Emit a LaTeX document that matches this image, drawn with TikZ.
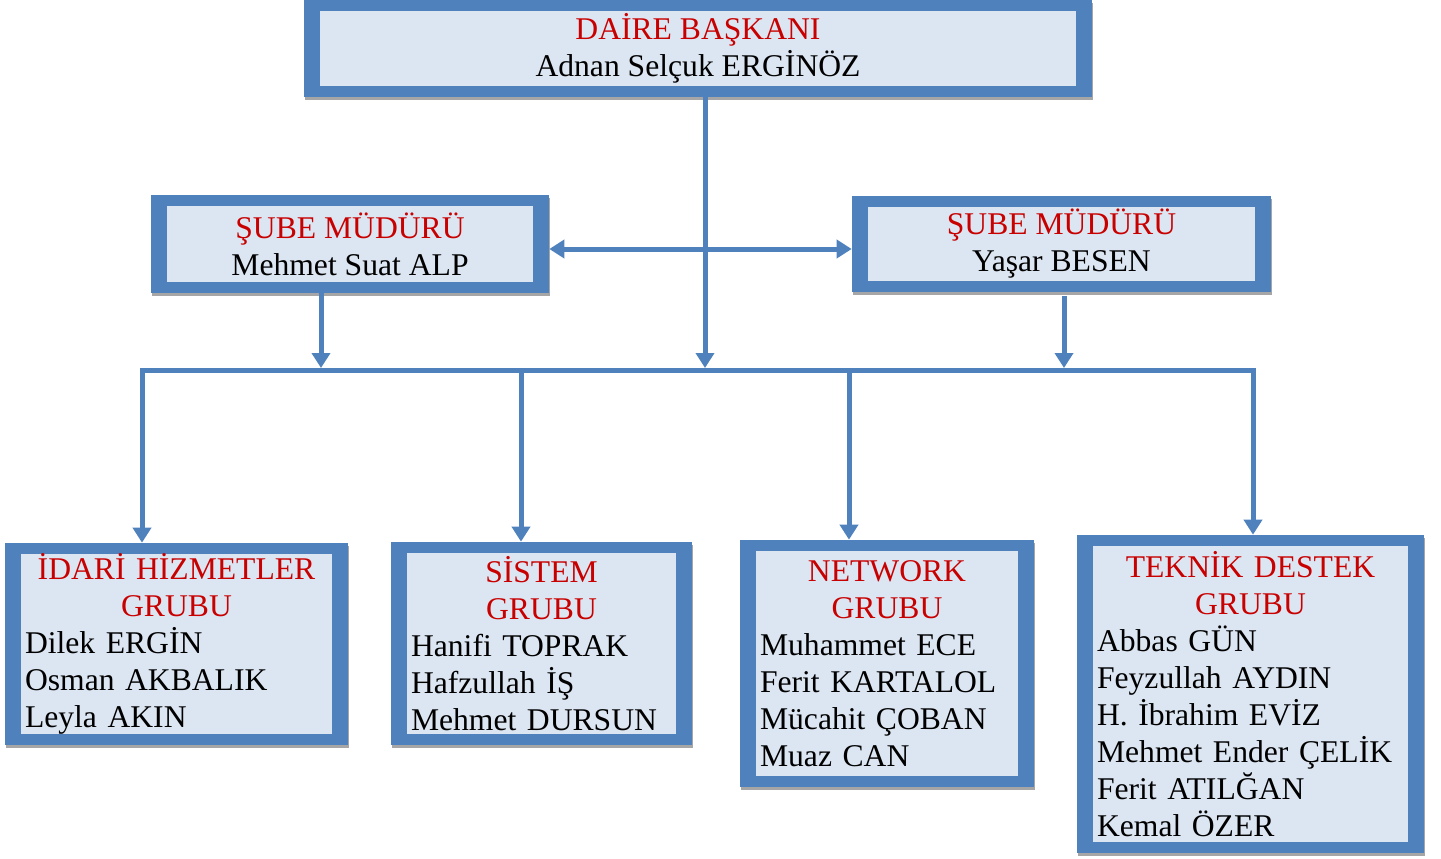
\documentclass[tikz,border=0pt]{standalone}
\usepackage{fontspec}
\setmainfont{Liberation Serif}
\usepackage{tikz}
\usetikzlibrary{arrows.meta,shadows}

\definecolor{boxblue}{RGB}{79,129,189}
\definecolor{boxfill}{RGB}{220,230,242}
\definecolor{titlered}{RGB}{200,0,0}
\definecolor{shadegray}{RGB}{166,166,166}

\begin{document}
\begin{tikzpicture}[x=0.02cm,y=-0.02cm]
	\tikzstyle{orgbox}=[fill=boxblue,inner sep=0pt,
		font=\fontsize{18}{21}\selectfont,
		drop shadow={shadow xshift=0.4pt,shadow yshift=-1.8pt,fill=shadegray,opacity=1},
		path picture={\fill[boxfill] ([shift={(0.31cm,0.22cm)}]path picture bounding box.south west) rectangle ([shift={(-0.31cm,-0.22cm)}]path picture bounding box.north east);}]
	\tikzstyle{headbox}=[orgbox,align=center]
	\tikzstyle{groupbox}=[orgbox,inner xsep=0.4cm]
	\tikzstyle{conn}=[draw=boxblue,line width=0.1cm]
	\tikzstyle{tip}=[>={Triangle[length=0.3cm,width=0.36cm]}]
	\useasboundingbox (0,0) rectangle (1441,859);

	% heads
	\node[headbox,minimum width=15.76cm,minimum height=1.94cm](daire) at (698,48.5) {{\color{titlered}DAİRE BAŞKANI}\\Adnan Selçuk ERGİNÖZ};
	\node[headbox,minimum width=7.96cm,minimum height=1.96cm](subeA) at (350,244) {{\color{titlered}ŞUBE MÜDÜRÜ}\\Mehmet Suat ALP};
	\node[headbox,minimum width=8.38cm,minimum height=1.92cm](subeB) at (1061.5,244) {{\color{titlered}ŞUBE MÜDÜRÜ}\\Yaşar BESEN};

	% groups
	\node[groupbox,text width=6.06cm,minimum height=4.04cm](idari) at (176.5,644) {{\centering\color{titlered}İDARİ HİZMETLER\\GRUBU\par}Dilek ERGİN\\Osman AKBALIK\\Leyla AKIN};
	\node[groupbox,text width=5.22cm,minimum height=4.06cm](sistem) at (541.5,643.5) {{\centering\color{titlered}SİSTEM\\GRUBU\par}Hanifi TOPRAK\\Hafzullah İŞ\\Mehmet DURSUN};
	\node[groupbox,text width=5.08cm,minimum height=4.94cm](network) at (887,663.5) {{\centering\color{titlered}NETWORK\\GRUBU\par}Muhammet ECE\\Ferit KARTALOL\\Mücahit ÇOBAN\\Muaz CAN};
	\node[groupbox,text width=6.14cm,minimum height=6.36cm](teknik) at (1250.5,694) {{\centering\color{titlered}TEKNİK DESTEK\\GRUBU\par}Abbas GÜN\\Feyzullah AYDIN\\H. İbrahim EVİZ\\Mehmet Ender ÇELİK\\Ferit ATILĞAN\\Kemal ÖZER};

	% bus points
	\coordinate (dbus) at (705,368);
	\coordinate (abus) at (321,368);
	\coordinate (bbus) at (1064,368);
	\coordinate (bL) at (142,370);
	\coordinate (bS) at (521,370);
	\coordinate (bN) at (849,370);
	\coordinate (bR) at (1253,370);

	\draw[conn,tip,->](daire.south -| dbus) -- (dbus);
	\draw[conn,tip,<->]([yshift=-0.1cm]subeA.east) -- ([yshift=-0.1cm]subeB.west);
	\draw[conn,tip,->](subeA.south -| abus) -- (abus);
	\draw[conn,tip,->,shorten <=0.08cm](subeB.south -| bbus) -- (bbus);
	\draw[conn,tip,<->](bL |- idari.north) -- (bL) -- (bR) -- (bR |- teknik.north);
	\draw[conn,tip,->](bS) -- (bS |- sistem.north);
	\draw[conn,tip,->](bN) -- (bN |- network.north);
\end{tikzpicture}
\end{document}
